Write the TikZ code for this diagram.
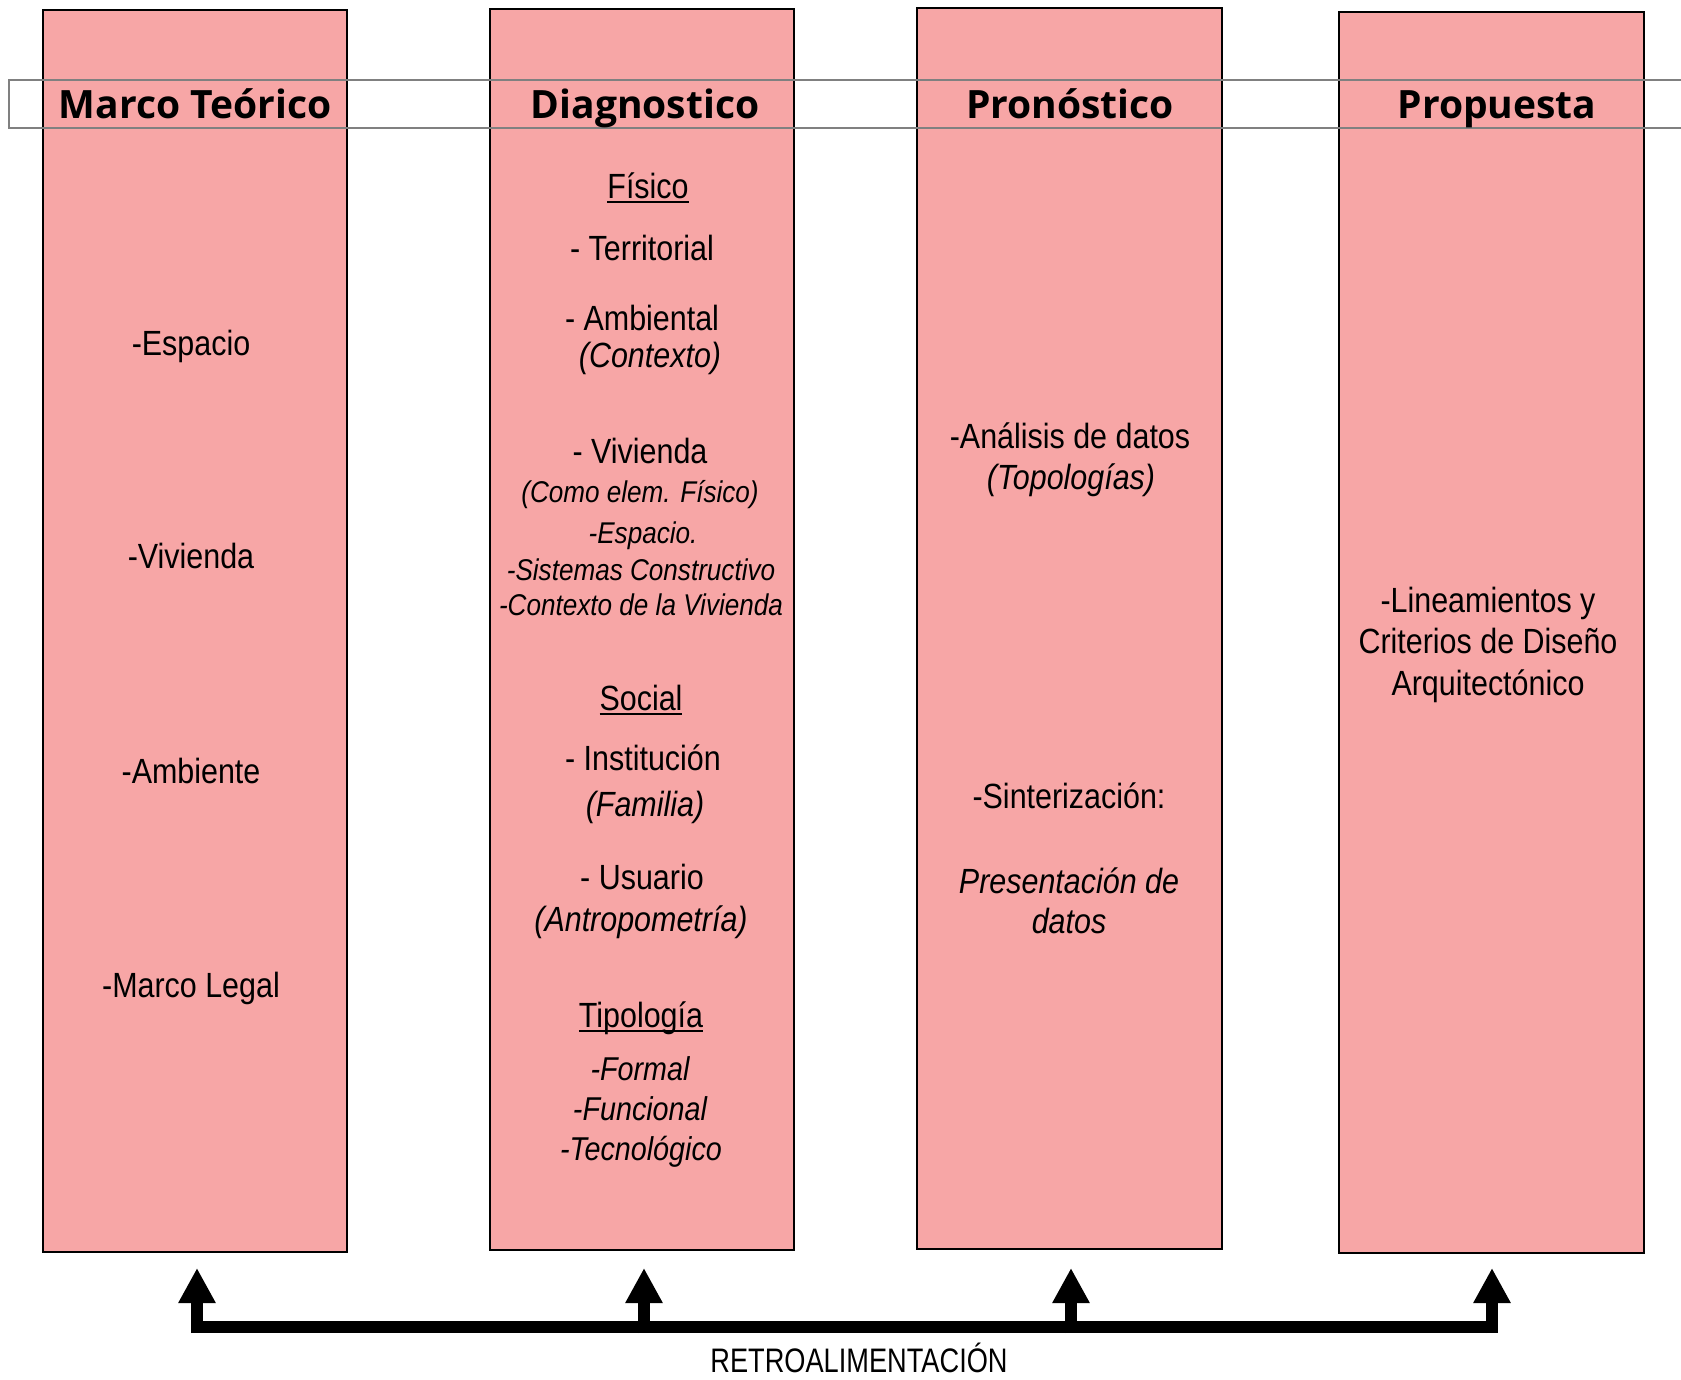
\documentclass[tikz,border=0pt]{standalone}
\usepackage{fontspec}
\setmainfont{Liberation Sans}
\newfontfamily\narrowfont{Liberation Sans}[FakeStretch=0.87]
\newfontfamily\captionfont{Liberation Sans}[FakeStretch=0.8]
\newfontfamily\titlefont{Open Sans}
\usetikzlibrary{arrows.meta}
\definecolor{boxpink}{RGB}{247,166,166}
\definecolor{bandgray}{RGB}{128,128,128}
% underline drawn through the descenders, word-processor style
\newcommand\ulinetxt[1]{\setbox0\hbox{#1}\rlap{\rule[-5pt]{\wd0}{2pt}}\box0}

\begin{document}
\begin{tikzpicture}[x=1pt,y=-1pt,
  column/.style={draw=black,line width=2pt,fill=boxpink,inner sep=0pt},
  head/.style={font=\titlefont\bfseries\fontsize{39}{44}\selectfont,anchor=base,inner sep=0pt},
  item/.style={font=\narrowfont\fontsize{35}{42}\selectfont,anchor=base,inner sep=0pt},
  itemit/.style={font=\narrowfont\itshape\fontsize{35}{42}\selectfont,anchor=base,inner sep=0pt},
  subit/.style={font=\narrowfont\itshape\fontsize{30}{36}\selectfont,anchor=base,inner sep=0pt},
  typit/.style={font=\narrowfont\itshape\fontsize{33}{40}\selectfont,anchor=base,inner sep=0pt},
  band/.style={draw=bandgray,line width=2pt},
  fbbar/.style={line width=12pt,line cap=butt},
  fbarrow/.style={line width=12pt,line cap=butt,-{Triangle[width=35pt,length=35pt]}},
  caption/.style={font=\captionfont\fontsize{34}{40}\selectfont,anchor=base,inner sep=0pt},
]
\useasboundingbox (0,0) rectangle (1681,1379);
\fill[white] (0,0) rectangle (1681,1379);

% the four stage columns
\node[column,minimum width=304pt,minimum height=1242pt] (c1) at (195,631) {};
\node[column,minimum width=304pt,minimum height=1241pt] (c2) at (642,629.5) {};
\node[column,minimum width=305pt,minimum height=1241pt] (c3) at (1069.5,628.5) {};
\node[column,minimum width=305pt,minimum height=1241pt] (c4) at (1491.5,632.5) {};

% heading band across the columns
\draw[band] (1681,80) -- (9,80) -- (9,128) -- (1681,128);

% headings
\node[head] (h1) at (195,118) {Marco Teórico};
\node[head] (h2) at (645,118) {Diagnostico};
\node[head] (h3) at (1070,118) {Pronóstico};
\node[head] (h4) at (1497,118) {Propuesta};

% Marco Teórico
\node[item] (m1) at (191,355) {-Espacio};
\node[item] (m2) at (191,568) {-Vivienda};
\node[item] (m3) at (191,783) {-Ambiente};
\node[item] (m4) at (191,997) {-Marco Legal};

% Diagnostico
\node[item] (d1) at (648,198) {\ulinetxt{Físico}};
\node[item] (d2) at (642,260) {- Territorial};
\node[item] (d3) at (642,330) {- Ambiental};
\node[itemit] (d4) at (650,367) {(Contexto)};
\node[item] (d5) at (640,463) {- Vivienda};
\node[subit] (d6) at (640,502) {(Como elem. Físico)};
\node[subit] (d7) at (643,543) {-Espacio.};
\node[subit] (d8) at (641,580) {-Sistemas Constructivo};
\node[subit] (d9) at (641,615) {-Contexto de la Vivienda};
\node[item] (d10) at (641,710) {\ulinetxt{Social}};
\node[item] (d11) at (643,770) {- Institución};
\node[itemit] (d12) at (645,816) {(Familia)};
\node[item] (d13) at (642,889) {- Usuario};
\node[itemit] (d14) at (641,931) {(Antropometría)};
\node[item] (d15) at (641,1027) {\ulinetxt{Tipología}};
\node[typit] (d16) at (640,1080) {-Formal};
\node[typit] (d17) at (640,1120) {-Funcional};
\node[typit] (d18) at (641,1160) {-Tecnológico};

% Pronóstico
\node[item] (p1) at (1070,448) {-Análisis de datos};
\node[itemit] (p2) at (1071,489) {(Topologías)};
\node[item] (p3) at (1069,808) {-Sinterización:};
\node[itemit] (p4) at (1069,893) {Presentación de};
\node[itemit] (p5) at (1069,933) {datos};

% Propuesta
\node[item] (q1) at (1488,612) {-Lineamientos y};
\node[item] (q2) at (1488,653) {Criterios de Diseño};
\node[item] (q3) at (1488,695) {Arquitectónico};

% feedback line under the columns
\coordinate (b1) at (197,1333);
\coordinate (b2) at (644,1333);
\coordinate (b3) at (1071,1333);
\coordinate (b4) at (1492,1333);
\coordinate (t1) at (197,1268);
\coordinate (t2) at (644,1268);
\coordinate (t3) at (1071,1268);
\coordinate (t4) at (1492,1268);
\draw[fbbar] ([xshift=-6pt,yshift=6pt]b1) -- ([xshift=6pt,yshift=6pt]b4);
\draw[fbarrow] (b1) -- (t1);
\draw[fbarrow] (b2) -- (t2);
\draw[fbarrow] (b3) -- (t3);
\draw[fbarrow] (b4) -- (t4);

\node[caption] (fb) at (859,1372) {RETROALIMENTACIÓN};
\end{tikzpicture}
\end{document}
